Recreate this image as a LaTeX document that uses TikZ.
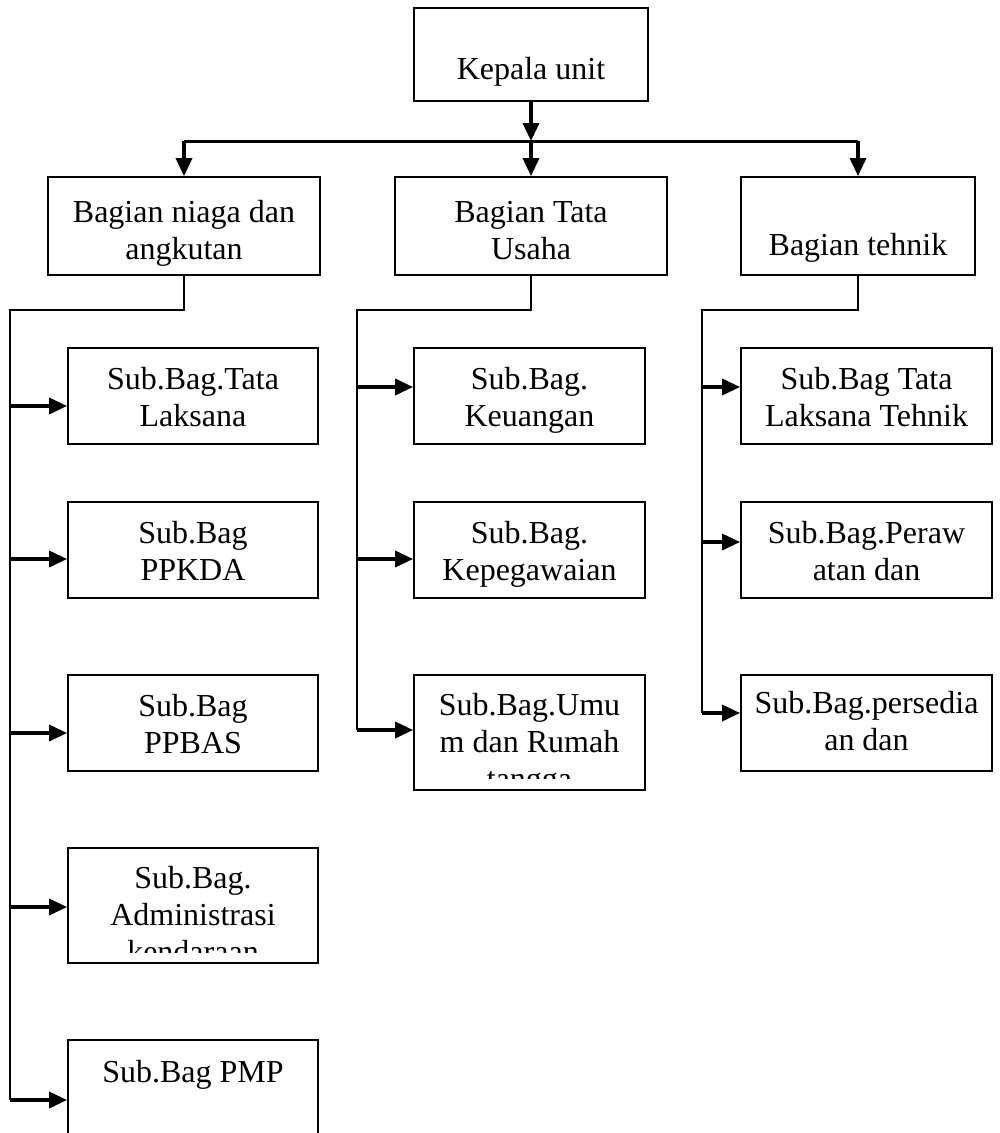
\documentclass[tikz,border=0pt]{standalone}
\usepackage{fontspec}
\setmainfont{Liberation Serif}
\usetikzlibrary{arrows.meta}
\newcommand{\twoln}[1]{\begin{tabular}[t]{@{}c@{}}#1\end{tabular}}
\begin{document}
\begin{tikzpicture}[x=1pt,y=-1pt,
  box/.style={draw, line width=1.8pt, rectangle, inner sep=0pt},
  txt/.style={anchor=base, inner sep=0pt, font=\fontsize{32}{37}\selectfont},
  conn/.style={line width=2pt},
  branch/.style={line width=3pt},
  arr/.style={line width=3.5pt, -{Triangle[length=18pt 0 0,width=16pt 0 0]}},
]
\useasboundingbox (0,0) rectangle (1000,1133);

% top
\node[box, minimum width=234, minimum height=93] (k) at (531,54.5) {};
\node[txt] (kt) at (531,79) {Kepala unit};

% level 2
\node[box, minimum width=272, minimum height=98] (n) at (184,226) {};
\node[box, minimum width=272, minimum height=98] (tu) at (531,226) {};
\node[box, minimum width=234, minimum height=98] (th) at (858,226) {};
\node[txt] (nt) at (184,222) {\twoln{Bagian niaga dan\\angkutan}};
\node[txt] (tut) at (531,222) {\twoln{Bagian Tata\\Usaha}};
\node[txt] (tht) at (858,255) {Bagian tehnik};

% branch from top
\coordinate (bl) at (184,141);
\coordinate (bm) at (531,141);
\coordinate (bR) at (858,141);
\draw[arr] (k.south) -- (bm);
\draw[branch] (bl) -- (bR);
\draw[arr] (bl) -- (n.north);
\draw[arr] (bm) -- (tu.north);
\draw[arr] (bR) -- (th.north);

% column 1 boxes
\node[box, minimum width=250, minimum height=96] (a1) at (193,396) {};
\node[box, minimum width=250, minimum height=96] (a2) at (193,550) {};
\node[box, minimum width=250, minimum height=96] (a3) at (193,723) {};
\node[box, minimum width=250, minimum height=115] (a4) at (193,905.5) {};
\node[box, minimum width=250, minimum height=160] (a5) at (193,1120) {};
\node[txt] (a1t) at (193,389) {\twoln{Sub.Bag.Tata\\Laksana}};
\node[txt] (a2t) at (193,543) {\twoln{Sub.Bag\\PPKDA}};
\node[txt] (a3t) at (193,716) {\twoln{Sub.Bag\\PPBAS}};
\begin{scope}
\clip (68,848) rectangle (318,952);
\node[txt] (a4t) at (193,888) {\twoln{Sub.Bag.\\Administrasi\\kendaraan}};
\end{scope}
\node[txt] (a5t) at (193,1082) {Sub.Bag PMP};

% column 2 boxes
\node[box, minimum width=231, minimum height=96] (b1) at (529.5,396) {};
\node[box, minimum width=231, minimum height=96] (b2) at (529.5,550) {};
\node[box, minimum width=231, minimum height=115] (b3) at (529.5,732.5) {};
\node[txt] (b1t) at (529.5,389) {\twoln{Sub.Bag.\\Keuangan}};
\node[txt] (b2t) at (529.5,543) {\twoln{Sub.Bag.\\Kepegawaian}};
\begin{scope}
\clip (414,675) rectangle (645,778);
\node[txt] (b3t) at (529.5,715) {\twoln{Sub.Bag.Umu\\m dan Rumah\\tangga}};
\end{scope}

% column 3 boxes
\node[box, minimum width=251, minimum height=96] (d1) at (866.5,396) {};
\node[box, minimum width=251, minimum height=96] (d2) at (866.5,550) {};
\node[box, minimum width=251, minimum height=96] (d3) at (866.5,723) {};
\node[txt] (d1t) at (866.5,389) {\twoln{Sub.Bag Tata\\Laksana Tehnik}};
\node[txt] (d2t) at (866.5,543) {\twoln{Sub.Bag.Peraw\\atan dan}};
\node[txt] (d3t) at (866.5,713) {\twoln{Sub.Bag.persedia\\an dan}};

% column 1 trunk
\coordinate (j1) at (184,310);
\coordinate (t1a) at (10,310);
\coordinate (t1b) at (10,1100);
\draw[conn] (n.south) -- (j1) -- (t1a) -- (t1b);
\coordinate (p11) at (10,406);
\coordinate (p12) at (10,559);
\coordinate (p13) at (10,733);
\coordinate (p14) at (10,907);
\coordinate (p15) at (10,1100);
\draw[arr] (p11) -- (p11 -| a1.west);
\draw[arr] (p12) -- (p12 -| a2.west);
\draw[arr] (p13) -- (p13 -| a3.west);
\draw[arr] (p14) -- (p14 -| a4.west);
\draw[arr] (p15) -- (p15 -| a5.west);

% column 2 trunk
\coordinate (j2) at (531,310);
\coordinate (t2a) at (357,310);
\coordinate (t2b) at (357,730);
\draw[conn] (tu.south) -- (j2) -- (t2a) -- (t2b);
\coordinate (p21) at (357,387);
\coordinate (p22) at (357,559);
\coordinate (p23) at (357,730);
\draw[arr] (p21) -- (p21 -| b1.west);
\draw[arr] (p22) -- (p22 -| b2.west);
\draw[arr] (p23) -- (p23 -| b3.west);

% column 3 trunk
\coordinate (j3) at (858,310);
\coordinate (t3a) at (702,310);
\coordinate (t3b) at (702,713);
\draw[conn] (th.south) -- (j3) -- (t3a) -- (t3b);
\coordinate (p31) at (702,387);
\coordinate (p32) at (702,542);
\coordinate (p33) at (702,713);
\draw[arr] (p31) -- (p31 -| d1.west);
\draw[arr] (p32) -- (p32 -| d2.west);
\draw[arr] (p33) -- (p33 -| d3.west);
\end{tikzpicture}
\end{document}
